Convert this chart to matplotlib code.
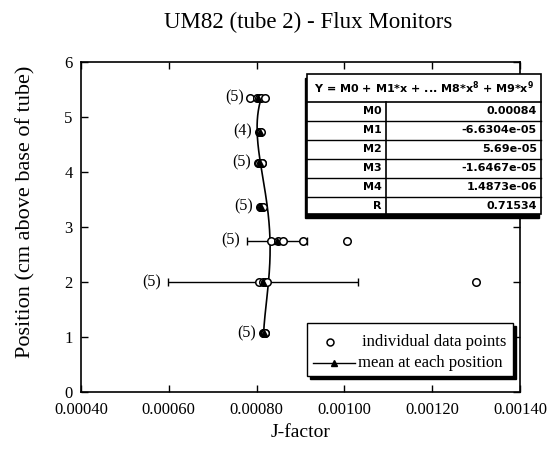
import numpy as np
import matplotlib
matplotlib.use("Agg")
import matplotlib.pyplot as plt
from matplotlib.patches import Rectangle
from matplotlib.lines import Line2D

# positions along the tube (cm above base)
positions = [5.35, 4.73, 4.17, 3.37, 2.75, 2.0, 1.07]

# individual J-factor readings at each position
readings = [
    [0.000786, 0.000801, 0.000806, 0.000811, 0.000818],
    [0.000805, 0.000807, 0.000808, 0.000810],
    [0.000803, 0.000805, 0.000809, 0.000812, 0.000813],
    [0.000808, 0.000810, 0.000811, 0.000812, 0.000814],
    [0.000832, 0.000849, 0.000861, 0.000906, 0.001005],
    [0.000805, 0.000815, 0.000818, 0.000823, 0.001300],
    [0.000814, 0.000816, 0.000817, 0.000818, 0.000820],
]
means = [0.000804, 0.000808, 0.000808, 0.000811, 0.000847, 0.000815, 0.000817]
errors = [0.0, 0.0, 0.0, 0.0, 0.000068, 0.000217, 0.0]
counts = [5, 4, 5, 5, 5, 5, 5]

# polynomial fit J(position) = M0 + M1*p + ... + M4*p^4
coef_names = ["M0", "M1", "M2", "M3", "M4"]
coefs = [0.00084, -6.6304e-05, 5.69e-05, -1.6467e-05, 1.4873e-06]
coef_text = ["0.00084", "-6.6304e-05", "5.69e-05", "-1.6467e-05", "1.4873e-06"]
r_value = "0.71534"

xticks = [0.00040, 0.00060, 0.00080, 0.00100, 0.00120, 0.00140]
yticks = [0, 1, 2, 3, 4, 5, 6]

serif = "Liberation Serif"
W, H = 548, 453
fig = plt.figure(figsize=(W / 100, H / 100), dpi=100)
ax = fig.add_axes([81 / W, 1 - 392 / H, (520 - 81) / W, (392 - 62) / H])

# fitted curve
p = np.linspace(min(positions), max(positions), 200)
fit = sum(c * p ** k for k, c in enumerate(coefs))
ax.plot(fit, p, color="black", lw=1.2, zorder=2)

# error bars for the means
for y, m, e in zip(positions, means, errors):
    if e > 0:
        ax.errorbar(m, y, xerr=e, fmt="none", ecolor="black", elinewidth=1.0,
                    capsize=3, capthick=1.0, zorder=2)

# individual points
for y, vals in zip(positions, readings):
    ax.plot(vals, [y] * len(vals), linestyle="none", marker="o", ms=5.4,
            mfc="white", mec="black", mew=1.1, zorder=3)

# mean markers
ax.plot(means, positions, linestyle="none", marker="^", ms=5, color="black", zorder=4)

# sample counts beside each row
for y, vals, m, e, n in zip(positions, readings, means, errors, counts):
    left = min(min(vals), m - e)
    ax.annotate(f"({n})", (left, y), xytext=(-5, 0), textcoords="offset points",
                ha="right", va="center", fontsize=11.5, family=serif)

ax.set_xlim(0.0004, 0.0014)
ax.set_ylim(0, 6)
ax.set_xticks(xticks)
ax.set_xticklabels([f"{t:.5f}" for t in xticks])
ax.set_yticks(yticks)
ax.tick_params(direction="in", length=5, width=1, top=True, right=True,
               labelsize=12)
ax.tick_params(axis="x", pad=7)
ax.tick_params(axis="y", pad=6)
for lab in ax.get_xticklabels() + ax.get_yticklabels():
    lab.set_family(serif)
for s in ax.spines.values():
    s.set_linewidth(1.2)

ax.set_xlabel("J-factor", fontsize=14, family=serif)
ax.xaxis.set_label_coords(0.5, (392 - 424) / 330)
ax.set_ylabel("Position (cm above base of tube)", fontsize=16, family=serif)
ax.yaxis.set_label_coords((35 - 81) / 439, (392 - 212) / 330)
fig.text(308 / W, 1 - 22 / H, "UM82 (tube 2) - Flux Monitors", ha="center",
         va="center", fontsize=16.5, family=serif)

# legend box with drop shadow
lx0, ly0, lx1, ly1 = 307, 323, 513, 376
fig.patches.append(Rectangle(((lx0 + 3) / W, 1 - (ly1 + 3) / H), (lx1 - lx0) / W,
                             (ly1 - ly0) / H, transform=fig.transFigure,
                             facecolor="black", edgecolor="black", zorder=5))
fig.patches.append(Rectangle((lx0 / W, 1 - ly1 / H), (lx1 - lx0) / W,
                             (ly1 - ly0) / H, transform=fig.transFigure,
                             facecolor="white", edgecolor="black", lw=1.0, zorder=6))
fig.lines.append(Line2D([330 / W], [1 - 342 / H], marker="o", ms=5, mfc="white",
                        mec="black", mew=1.1, transform=fig.transFigure, zorder=7))
fig.lines.append(Line2D([313 / W, 355 / W], [1 - 363 / H] * 2, color="black", lw=1,
                        transform=fig.transFigure, zorder=7))
fig.lines.append(Line2D([334 / W], [1 - 363 / H], marker="^", ms=5, color="black",
                        transform=fig.transFigure, zorder=7))
fig.text(362 / W, 1 - 342 / H, "individual data points", fontsize=12, family=serif,
         va="center", zorder=7)
fig.text(358 / W, 1 - 363 / H, "mean at each position", fontsize=12, family=serif,
         va="center", zorder=7)

# coefficient table
tx0, ty0, tx1, ty1 = 307, 74, 541, 214
col = 386
row_h = 18.9
tab_font = dict(fontsize=8, family="DejaVu Sans", weight="bold", zorder=7)
fig.patches.append(Rectangle(((tx0 - 2) / W, 1 - (ty1 + 4) / H), (tx1 - tx0) / W,
                             (ty1 - ty0) / H, transform=fig.transFigure,
                             facecolor="black", edgecolor="black", zorder=5))
fig.patches.append(Rectangle((tx0 / W, 1 - ty1 / H), (tx1 - tx0) / W, (ty1 - ty0) / H,
                             transform=fig.transFigure, facecolor="white",
                             edgecolor="black", lw=1.2, zorder=6))
head_bottom = 102
fig.text((tx0 + tx1) / 2 / W, 1 - (ty0 + head_bottom) / 2 / H,
         "Y = M0 + M1*x + ... M8*x$^{\\mathbf{8}}$ + M9*x$^{\\mathbf{9}}$",
         ha="center", va="center", **tab_font)
names = coef_names + ["R"]
values = coef_text + [r_value]
fig.lines.append(Line2D([tx0 / W, tx1 / W], [1 - head_bottom / H] * 2, color="black",
                        lw=1.2, transform=fig.transFigure, zorder=7))
fig.lines.append(Line2D([col / W] * 2, [1 - head_bottom / H, 1 - ty1 / H], color="black",
                        lw=1.2, transform=fig.transFigure, zorder=7))
for i, (nm, val) in enumerate(zip(names, values)):
    top = head_bottom + i * row_h
    yc = 1 - (top + row_h / 2) / H
    fig.text((col - 4) / W, yc, nm, ha="right", va="center", **tab_font)
    fig.text((tx1 - 4) / W, yc, val, ha="right", va="center", **tab_font)
    if i > 0:
        fig.lines.append(Line2D([tx0 / W, tx1 / W], [1 - top / H] * 2, color="black",
                                lw=1.0, transform=fig.transFigure, zorder=7))

fig.savefig("out.png", dpi=100)
